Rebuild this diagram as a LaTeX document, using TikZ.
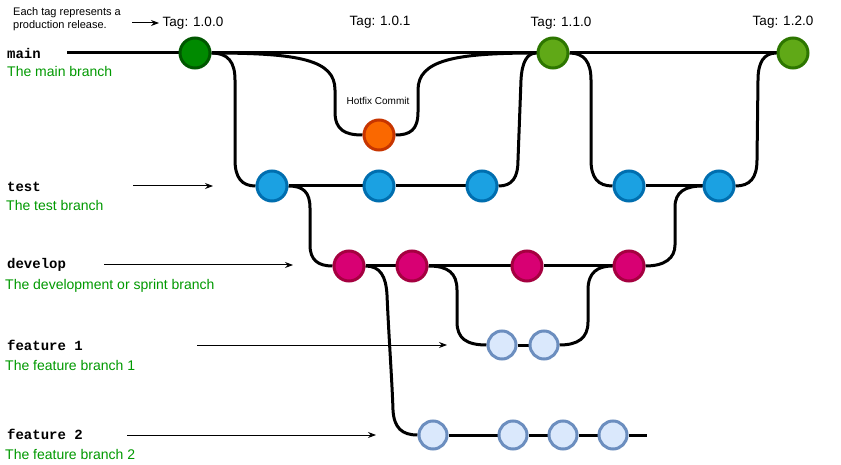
\documentclass[tikz,border=0pt]{standalone}
\usepackage{fontspec}
\setmainfont{Liberation Sans}
\newfontfamily\monof{Liberation Mono}
\usetikzlibrary{arrows.meta}
\pgfdeclarelayer{bgl}
\pgfdeclarelayer{edges}
\pgfsetlayers{bgl,edges,main}
\definecolor{mainAfill}{HTML}{008A00}
\definecolor{mainAline}{HTML}{005700}
\definecolor{mainBfill}{HTML}{60A917}
\definecolor{mainBline}{HTML}{2D7600}
\definecolor{hotfill}{HTML}{FA6800}
\definecolor{hotline}{HTML}{C73500}
\definecolor{testfill}{HTML}{1BA1E2}
\definecolor{testline}{HTML}{006EAF}
\definecolor{devfill}{HTML}{D80073}
\definecolor{devline}{HTML}{A50040}
\definecolor{featfill}{HTML}{DAE8FC}
\definecolor{featline}{HTML}{6C8EBF}
\definecolor{descgreen}{HTML}{009900}
\begin{document}
\begin{tikzpicture}[x=1pt,y=-1pt,
  commit/.style={circle,inner sep=0pt,minimum size=30pt,line width=3pt},
  maina/.style={commit,fill=mainAfill,draw=mainAline},
  mainb/.style={commit,fill=mainBfill,draw=mainBline},
  hotc/.style={commit,fill=hotfill,draw=hotline},
  testc/.style={commit,fill=testfill,draw=testline},
  devc/.style={commit,fill=devfill,draw=devline},
  featc/.style={commit,minimum size=28pt,fill=featfill,draw=featline},
  branch/.style={line width=3pt,black},
  pointer/.style={line width=1pt,-{Stealth[length=8pt,width=6pt]}},
  brname/.style={anchor=west,inner sep=0pt,font=\monof\bfseries\fontsize{14}{16}\selectfont},
  brdesc/.style={anchor=west,inner sep=0pt,text=descgreen,font=\fontsize{14}{16}\selectfont,text height=10pt,text depth=2pt},
  tag/.style={inner sep=0pt,font=\fontsize{13.5}{16}\selectfont}]
\begin{pgfonlayer}{bgl}
\fill[white] (0,0) rectangle (841,465);
\end{pgfonlayer}
\useasboundingbox (0,0) rectangle (841,465);

% commits
\node[maina] (m1) at (195,53) {};
\node[mainb] (m2) at (553,53) {};
\node[mainb] (m3) at (793,53) {};
\node[hotc] (hot) at (379,135) {};
\node[testc] (t1) at (272,186) {};
\node[testc] (t2) at (379,186) {};
\node[testc] (t3) at (482,186) {};
\node[testc] (t4) at (629,186) {};
\node[testc] (t5) at (719,186) {};
\node[devc] (d1) at (349,266) {};
\node[devc] (d2) at (412,266) {};
\node[devc] (d3) at (527,266) {};
\node[devc] (d4) at (629,266) {};
\node[featc] (f11) at (502,345) {};
\node[featc] (f12) at (544,345) {};
\node[featc] (f21) at (433,435) {};
\node[featc] (f22) at (513,435) {};
\node[featc] (f23) at (563,435) {};
\node[featc] (f24) at (613,435) {};
\coordinate (mainstart) at (67,53);
\coordinate (f2end) at (647,435);

% labels
\node[brname] (lmain) at (7,53) {main};
\node[brdesc] (dmain) at (7,73) {The main branch};
\node[brname] (ltest) at (7,187) {test};
\node[brdesc] (dtest) at (6,207) {The test branch};
\node[brname] (ldev) at (7,265) {develop};
\node[brdesc] (ddev) at (5,285) {The development or sprint branch};
\node[brname] (lf1) at (7,345) {feature 1};
\node[brdesc] (df1) at (5,366) {The feature branch 1};
\node[brname] (lf2) at (7,434) {feature 2};
\node[brdesc] (df2) at (5,455) {The feature branch 2};

\node[tag] (tag100) at (193,23) {Tag: 1.0.0};
\node[tag] (tag101) at (380,22) {Tag: 1.0.1};
\node[tag] (tag110) at (561,23) {Tag: 1.1.0};
\node[tag] (tag120) at (783,22) {Tag: 1.2.0};
\node[anchor=west,align=left,inner sep=0pt,font=\fontsize{11}{13}\selectfont] (note) at (13,19.5) {Each tag represents a\\production release.};
\node[inner sep=0pt,font=\fontsize{10}{12}\selectfont] (hotlbl) at (378,101) {Hotfix Commit};

% pointers
\coordinate (pa1) at (132,23);  \coordinate (pa2) at (159,23);
\coordinate (pt1) at (133,186); \coordinate (pt2) at (213,186);
\coordinate (pd1) at (104,265); \coordinate (pd2) at (293,265);
\coordinate (pf11) at (197,345); \coordinate (pf12) at (447,345);
\coordinate (pf21) at (127,435); \coordinate (pf22) at (376,435);
\draw[pointer] (pa1) -- (pa2);
\draw[pointer] (pt1) -- (pt2);
\draw[pointer] (pd1) -- (pd2);
\draw[pointer] (pf11) -- (pf12);
\draw[pointer] (pf21) -- (pf22);

\begin{pgfonlayer}{edges}
\draw[branch] (mainstart) -- (m1) -- (m2) -- (m3);
\draw[branch] (t1) -- (t2) -- (t3);
\draw[branch] (t4) -- (t5);
\draw[branch] (d1) -- (d2) -- (d3) -- (d4);
\draw[branch] (f11) -- (f12);
\draw[branch] (f21) -- (f22) -- (f23) -- (f24) -- (f2end);
% hotfix
\draw[branch] (m1.east) .. controls (300,53) and (335,60) .. (335,90) -- (335,112) .. controls (335,130) and (345,135) .. (hot.west);
\draw[branch] (hot.east) .. controls (410,135) and (418,130) .. (418,112) -- (418,90) .. controls (418,60) and (455,53) .. (m2.west);
% main <-> test
\draw[branch] (m1.east) .. controls (228,53) and (235,62) .. (235,80) -- (235,160) .. controls (235,178) and (242,186) .. (t1.west);
\draw[branch] (t3.east) .. controls (512,186) and (518,178) .. (518,160) -- (521,80) .. controls (522,62) and (527,53) .. (m2.west);
\draw[branch] (m2.east) .. controls (584,53) and (591,62) .. (591,80) -- (591,160) .. controls (591,178) and (598,186) .. (t4.west);
\draw[branch] (t5.east) .. controls (750,186) and (757,178) .. (757,160) -- (758,80) .. controls (758,62) and (764,53) .. (m3.west);
% test <-> develop
\draw[branch] (t1.east) .. controls (303,186) and (310,192) .. (310,208) -- (310,245) .. controls (310,260) and (318,266) .. (d1.west);
\draw[branch] (d4.east) .. controls (665,266) and (675,258) .. (675,245) -- (675,207) .. controls (675,192) and (685,186) .. (t5.west);
% develop <-> feature 1
\draw[branch] (d2.east) .. controls (448,266) and (457,273) .. (457,290) -- (457,322) .. controls (457,338) and (466,345) .. (f11.west);
\draw[branch] (f12.east) .. controls (578,345) and (588,338) .. (588,322) -- (588,290) .. controls (588,272) and (598,266) .. (d4.west);
% develop -> feature 2
\draw[branch] (d1.east) .. controls (380,266) and (386,276) .. (387,295) .. controls (389,340) and (392,380) .. (393,410) .. controls (394,428) and (402,435) .. (f21.west);
\end{pgfonlayer}
\end{tikzpicture}
\end{document}
